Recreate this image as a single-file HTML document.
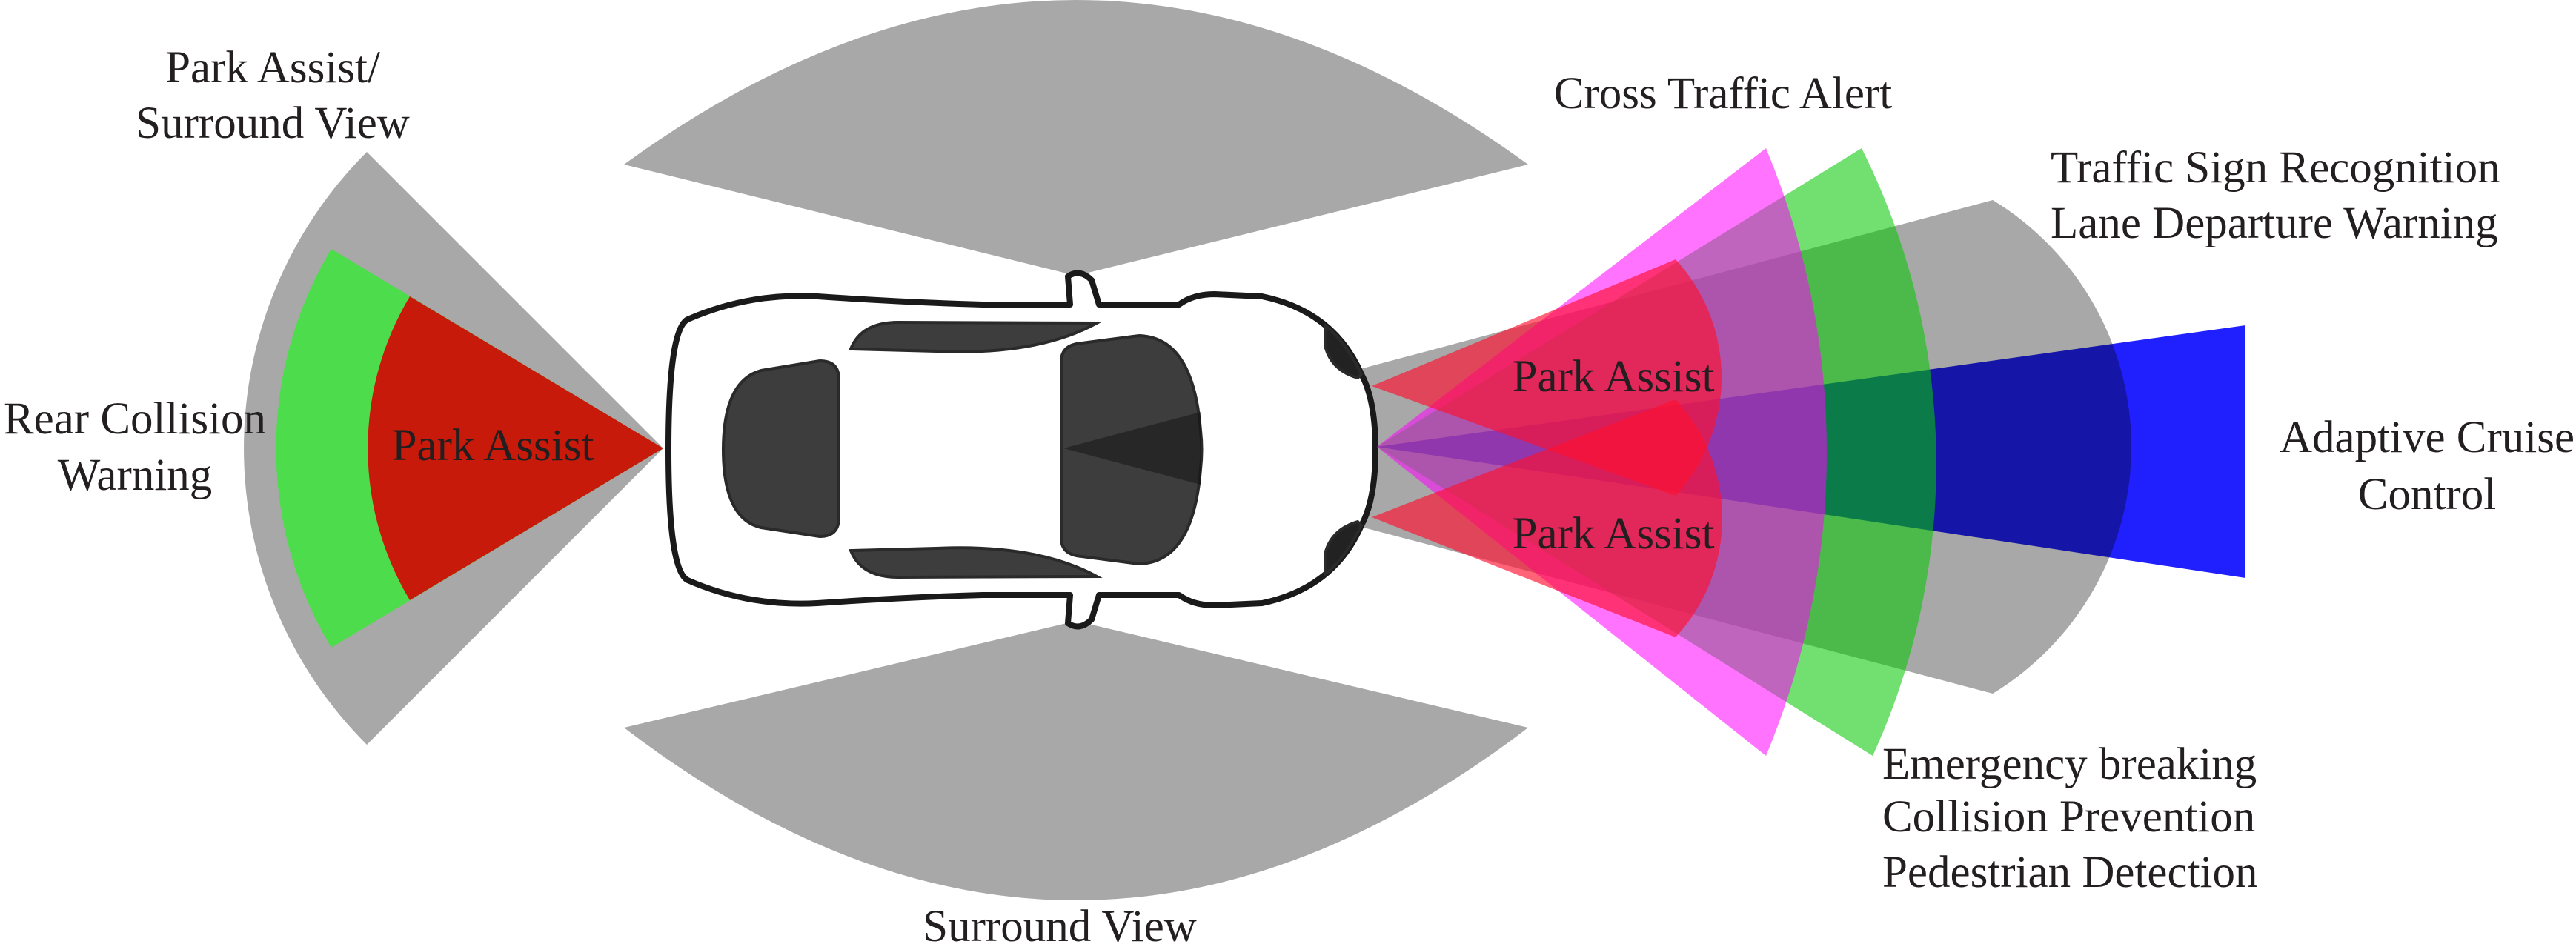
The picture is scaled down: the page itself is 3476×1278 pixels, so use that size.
<!DOCTYPE html>
<html><head><meta charset="utf-8"><style>
html,body{margin:0;padding:0;background:#fff}
svg{display:block}
text{font-family:"Liberation Serif",serif;font-size:61px;fill:#231f20}
</style></head><body>
<svg width="3476" height="1278" viewBox="0 0 3476 1278" xmlns="http://www.w3.org/2000/svg">
<path d="M842,222 L1452,372 L2062,222 Q1452,-222 842,222 Z" fill="#a8a8a8"/>
<path d="M842,982 L1452,838 L2062,982 Q1452,1448 842,982 Z" fill="#a8a8a8"/>
<path d="M895,605 L495,205 A565,565 0 0 0 495,1005 Z" fill="#a8a8a8"/>
<path d="M895,605 L447,336 A523,523 0 0 0 447,874 Z" fill="#4cdc4c"/>
<path d="M895,605 L553,400 A399,399 0 0 0 553,810 Z" fill="#c81a0a"/>
<path d="M1435,605 L2689,270 A390,390 0 0 1 2689,936 Z" fill="#a8a8a8"/>
<g stroke="#1a1a1a" stroke-width="8" stroke-linejoin="round">
<path d="M928,431 Q1010,395 1103,400 Q1220,408 1326,411 L1444,411 L1441,373 Q1457,362 1473,378 L1483,411 L1591,411 Q1610,397 1639,397 L1703,400 Q1800,420 1837,505 Q1856,540 1856,607 Q1856,674 1837,709 Q1800,794 1703,814 L1639,817 Q1610,817 1591,803 L1483,803 L1473,836 Q1457,852 1441,841 L1444,803 L1326,803 Q1220,806 1103,814 Q1010,819 928,783 Q902,770 902,607 Q902,444 928,431 Z" fill="#fff"/>
</g>
<g fill="#3d3d3d" stroke="#2a2a2a" stroke-width="4">
<path d="M1027,500 L1106,487 Q1132,487 1132,512 L1132,698 Q1132,724 1106,724 L1027,712 Q976,700 976,607 Q976,514 1027,500 Z"/>
<path d="M1432,488 Q1432,465 1460,463 L1537,453 Q1610,455 1620,581 Q1623,607 1620,633 Q1610,759 1537,761 L1460,751 Q1432,749 1432,726 Z"/>
<path d="M1148,471 Q1162,435 1212,435 L1480,436 Q1400,480 1263,474 Z"/>
<path d="M1148,743 Q1162,779 1212,779 L1480,778 Q1400,734 1263,740 Z"/>
<path d="M1789,440 Q1815,460 1837,505 L1832,510 Q1798,500 1789,470 Z" fill="#222"/>
<path d="M1789,774 Q1815,754 1837,709 L1832,704 Q1798,714 1789,744 Z" fill="#222"/>
</g>
<path d="M1435,605 L1620,556 L1620,654 Z" fill="#000" opacity="0.35"/>
<path d="M1858,603 L3030,439 L3030,780 Z" fill="#2020ff" style="mix-blend-mode:multiply"/>
<path d="M1858,603 L2512,200 A949,949 0 0 1 2527,1020 Z" fill="rgb(6,200,3)" opacity="0.57"/>
<path d="M1858,603 L2383,200 A1066,1066 0 0 1 2383,1020 Z" fill="#ff00ff" opacity="0.55"/>
<path d="M1851,521 L2261,350 A236,236 0 0 1 2261,669 Z" fill="#ff1030" opacity="0.65"/>
<path d="M1851,698 L2261,539 A236,236 0 0 1 2261,860 Z" fill="#ff1030" opacity="0.65"/>
<text x="368" y="111" text-anchor="middle">Park Assist/</text>
<text x="368" y="186" text-anchor="middle">Surround View</text>
<text x="182" y="585" text-anchor="middle">Rear Collision</text>
<text x="182" y="661" text-anchor="middle">Warning</text>
<text x="665" y="621" text-anchor="middle">Park Assist</text>
<text x="1430" y="1270" text-anchor="middle">Surround View</text>
<text x="2325" y="146" text-anchor="middle">Cross Traffic Alert</text>
<text x="2767" y="246">Traffic Sign Recognition</text>
<text x="2767" y="321">Lane Departure Warning</text>
<text x="3275" y="610" text-anchor="middle">Adaptive Cruise</text>
<text x="3275" y="687" text-anchor="middle">Control</text>
<text x="2177" y="528" text-anchor="middle">Park Assist</text>
<text x="2177" y="740" text-anchor="middle">Park Assist</text>
<text x="2540" y="1051">Emergency breaking</text>
<text x="2540" y="1122">Collision Prevention</text>
<text x="2540" y="1197">Pedestrian Detection</text>
</svg>
</body></html>
